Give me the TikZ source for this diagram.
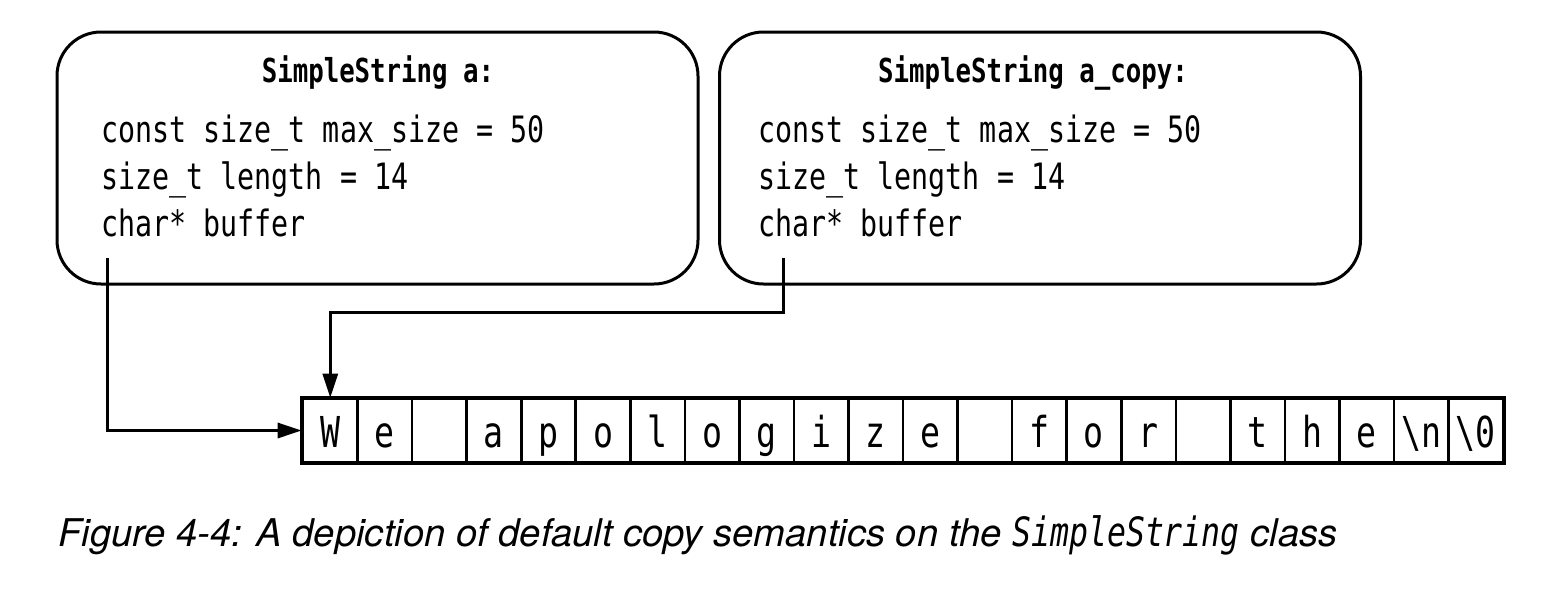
\documentclass[tikz,border=0pt]{standalone}
\usepackage{fontspec}
\usetikzlibrary{arrows.meta}
\newfontfamily\codefont{DejaVu Sans Mono}[FakeStretch=0.78]
\newfontfamily\capfont{TeX Gyre Heros}

\begin{document}
\begin{tikzpicture}[x=0.5pt,y=-0.5pt,
  objbox/.style={draw, line width=1.5pt, rounded corners=22pt,
    minimum width=320.5pt, minimum height=126pt, inner sep=0pt},
  objtitle/.style={anchor=base, inner sep=0pt,
    font=\codefont\bfseries\fontsize{16.5}{20}\selectfont},
  field/.style={anchor=base west, inner sep=0pt,
    font=\codefont\fontsize{18.15}{22}\selectfont},
  cell/.style={draw, line width=1.3pt, minimum width=27.27pt,
    minimum height=31.5pt, inner sep=0pt, text height=18pt, text depth=1.5pt,
    font=\codefont\fontsize{21.3}{24}\selectfont},
  ptr/.style={line width=1.5pt, -{Triangle[length=12pt,width=7.5pt]}}]

\useasboundingbox (0,0) rectangle (1555,600);

% the two objects
\node[objbox] (a)  at (377.5,158) {};
\node[objbox] (ac) at (1040,158) {};

\node[objtitle] (ta)  at (378,82)  {SimpleString a:};
\node[objtitle] (tac) at (1033,82) {SimpleString a\_copy:};

\node[field] (a1) at (101,142) {const size\_t max\_size = 50};
\node[field] (a2) at (101,189) {size\_t length = 14};
\node[field] (a3) at (101,236) {char* buffer};

\node[field] (b1) at (758,142) {const size\_t max\_size = 50};
\node[field] (b2) at (758,189) {size\_t length = 14};
\node[field] (b3) at (758,236) {char* buffer};

% the shared character buffer
\foreach \ch [count=\i] in {W,e,{},a,p,o,l,o,g,i,z,e,{},f,o,r,{},t,h,e,{\textbackslash n},{\textbackslash 0}}
  \node[cell] (c\i) at ({303+54.55*(\i-0.5)},430.5) {\ch};
\draw[line width=1.8pt] (c1.north west) rectangle (c22.south east);

% buffer pointers
\coordinate (pa) at (107,258);
\coordinate (pb) at (783,258);
\draw[ptr] (pa) |- (c1.west);
\draw[ptr] (pb) -- ++(0,54) -| (c1.north);

% caption
\node[anchor=base west, inner sep=0pt, font=\capfont\itshape\fontsize{19.1}{22}\selectfont] (cap) at (58,546)
  {Figure 4-4: A depiction of default copy semantics on the {\codefont\itshape\fontsize{20.2}{22}\selectfont SimpleString} class};
\end{tikzpicture}
\end{document}
